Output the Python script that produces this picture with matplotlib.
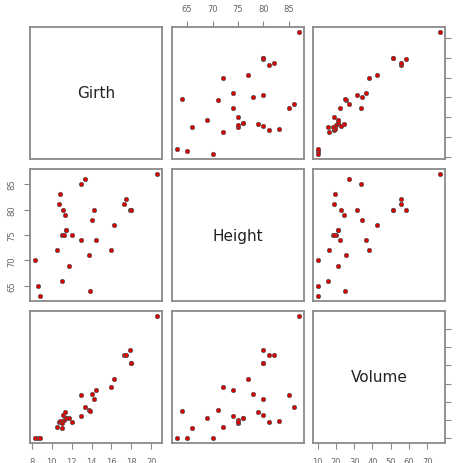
import matplotlib.pyplot as plt
import numpy as np

girth = [8.3, 8.6, 8.8, 10.5, 10.7, 10.8, 11.0, 11.0, 11.1, 11.2, 11.3, 11.4, 11.4, 11.7, 12.0, 12.9,
         12.9, 13.3, 13.7, 13.8, 14.0, 14.2, 14.5, 16.0, 16.3, 17.3, 17.5, 17.9, 18.0, 18.0, 20.6]
height = [70, 65, 63, 72, 81, 83, 66, 75, 80, 75, 79, 76, 76, 69, 75, 74,
          85, 86, 71, 64, 78, 80, 74, 72, 77, 81, 82, 80, 80, 80, 87]
volume = [10.3, 10.3, 10.2, 16.4, 18.8, 19.7, 15.6, 18.2, 22.6, 19.9, 24.2, 21.0, 21.4, 21.3, 19.1, 22.2,
          33.8, 27.4, 25.7, 24.9, 34.5, 31.7, 36.3, 38.3, 42.6, 55.4, 55.7, 58.3, 51.5, 51.0, 77.0]
names = ["Girth", "Height", "Volume"]
ticks = [[8, 10, 12, 14, 16, 18, 20], [65, 70, 75, 80, 85], [10, 20, 30, 40, 50, 60, 70]]

data = [np.array(girth), np.array(height), np.array(volume)]
W, H = 457, 464
fig = plt.figure(figsize=(W / 100, H / 100), dpi=100)

cols = [30, 172, 313]   # left edges in pixels
rows = [28, 170, 312]   # top edges in pixels
size = 132
gray = "#8a8a8a"

def lims(v):
    r = v.max() - v.min()
    return v.min() - 0.04 * r, v.max() + 0.04 * r

for i in range(3):
    for j in range(3):
        ax = fig.add_axes([cols[j] / W, 1 - (rows[i] + size) / H, size / W, size / H])
        ax.set_xlim(lims(data[j]))
        ax.set_ylim(lims(data[i]))
        for s in ax.spines.values():
            s.set_color(gray)
            s.set_linewidth(1.3)
        ax.set_xticks([])
        ax.set_yticks([])
        if i == j:
            ax.text(0.5, 0.5, names[i], transform=ax.transAxes, ha="center", va="center",
                    fontsize=11, color="#222222")
        else:
            ax.scatter(data[j], data[i], s=10, c="#e00000", edgecolors="#555555", linewidths=0.5, zorder=3)
        # axes placed like R pairs()
        if i == 0 and j == 1:
            ax.set_xticks(ticks[1])
            ax.xaxis.tick_top()
        if i == 2 and j in (0, 2):
            ax.set_xticks(ticks[j])
        if j == 0 and i == 1:
            ax.set_yticks(ticks[1])
        if j == 2 and i in (0, 2):
            ax.set_yticks(ticks[i])
            ax.yaxis.tick_right()
        ax.tick_params(length=4, color=gray, labelsize=6, labelcolor="#666666", pad=6)
        if j == 0 and i == 1:
            plt.setp(ax.get_yticklabels(), rotation=90, va="center")
        if j == 2 and i in (0, 2):
            ax.tick_params(axis="y", labelcolor="#ecd29a", pad=9)
            plt.setp(ax.get_yticklabels(), rotation=90, va="center")

fig.savefig("out.png", dpi=100)
